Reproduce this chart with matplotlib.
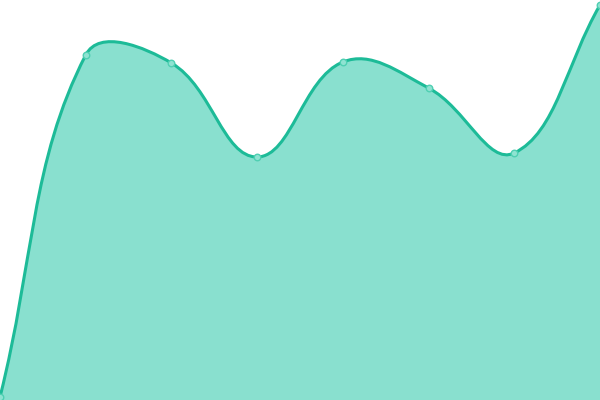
import matplotlib
matplotlib.use("Agg")
import matplotlib.pyplot as plt
import numpy as np
from matplotlib.path import Path
from matplotlib.patches import PathPatch

categories = ["A", "B", "C", "D", "E", "F", "G", "H"]
values = [3, 345, 337, 243, 338, 312, 247, 395]

LINE = "#1dbb98"
FILL = "#89e0cf"

fig = plt.figure(figsize=(6, 4), dpi=100)
ax = fig.add_axes([0, 0, 1, 1])
ax.set_xlim(0, len(categories) - 1)
ax.set_ylim(0, 400)
ax.axis("off")

x = np.arange(len(categories), dtype=float)
pts = ax.transData.transform(np.column_stack([x, values]))

tension = 0.4
n = len(pts)
cp_prev = np.zeros_like(pts)
cp_next = np.zeros_like(pts)
for i in range(n):
    p = pts[max(i - 1, 0)]
    c = pts[i]
    nx = pts[min(i + 1, n - 1)]
    d01 = np.hypot(*(c - p))
    d12 = np.hypot(*(nx - c))
    tot = d01 + d12
    s01 = d01 / tot if tot else 0
    s12 = d12 / tot if tot else 0
    fa = tension * s01
    fb = tension * s12
    cp_prev[i] = c - fa * (nx - p)
    cp_next[i] = c + fb * (nx - p)

verts = [pts[0]]
codes = [Path.MOVETO]
for i in range(n - 1):
    verts += [cp_next[i], cp_prev[i + 1], pts[i + 1]]
    codes += [Path.CURVE4] * 3
verts = ax.transData.inverted().transform(np.array(verts))

line_path = Path(verts, codes)
fill_verts = list(verts) + [(x[-1], 0), (x[0], 0), verts[0]]
fill_codes = codes + [Path.LINETO, Path.LINETO, Path.CLOSEPOLY]
ax.add_patch(PathPatch(Path(fill_verts, fill_codes), facecolor=FILL, edgecolor="none", zorder=1))
ax.add_patch(PathPatch(line_path, facecolor="none", edgecolor=LINE, lw=2.2, zorder=2, capstyle="round"))
ax.scatter(x, values, s=22, facecolor="#8fe3d2", edgecolor="#4fcfb2", linewidth=1.0, zorder=3, clip_on=False)

fig.savefig("out.png", dpi=100)
